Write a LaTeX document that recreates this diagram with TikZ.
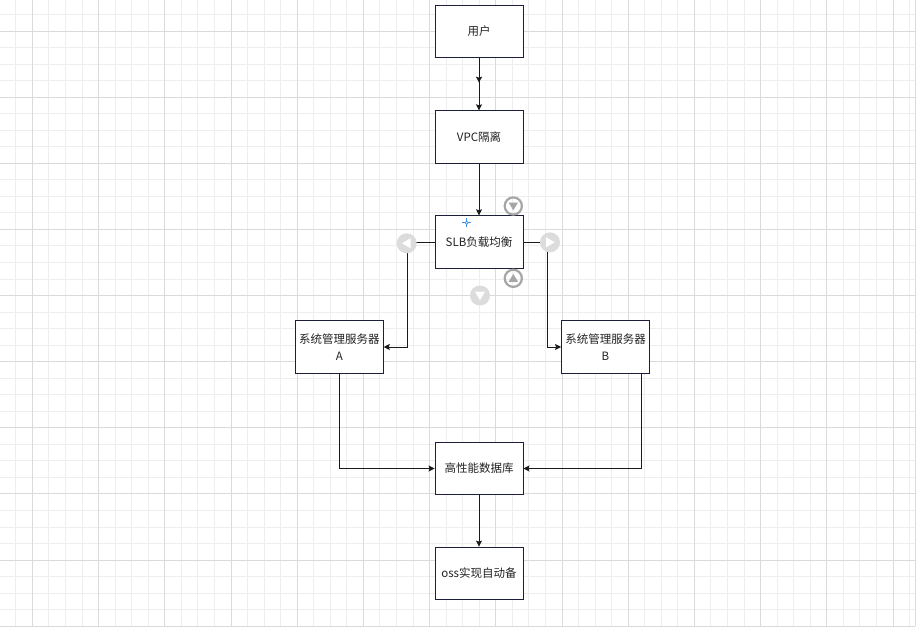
\documentclass[tikz,border=0pt]{standalone}
\usepackage{fontspec}
\newfontfamily\cjk{Noto Sans CJK SC}
\usepackage{tikz}
\usetikzlibrary{arrows.meta,calc,decorations.markings}
\usepackage{xcolor}
\definecolor{minorgrid}{HTML}{EEEEEE}
\definecolor{majorgrid}{HTML}{DADADA}
\definecolor{boxline}{HTML}{1C1F3A}
\definecolor{lnk}{HTML}{1A1A1A}
\definecolor{txt}{HTML}{222222}
\definecolor{iconlight}{HTML}{DCDCDC}
\definecolor{icondark}{HTML}{A6A6A6}
\definecolor{cross}{HTML}{3C8CE0}
\tikzset{
  box/.style={draw=boxline, line width=0.9pt, fill=white, minimum width=88pt, minimum height=52.5pt,
    inner sep=0pt, align=center, text=txt, font=\cjk\fontsize{11.5}{16.5}\selectfont},
  tip/.style={Stealth[length=6pt,width=6pt,inset=1pt]},
  link/.style={draw=lnk, line width=0.9pt, -{Stealth[length=6pt,width=6pt,inset=1pt]}},
  midtip/.style={postaction=decorate, decoration={markings, mark=at position 0.47 with {\arrow{Stealth[length=6pt,width=6pt,inset=1pt]}}}}
}

\begin{document}
\begin{tikzpicture}[x=1pt,y=-1pt]
\useasboundingbox [fill=white] (0,0) rectangle (918,627);
\foreach \i in {0,...,54} \draw [minorgrid, line width=0.8pt] ({15.75+16.55*\i},0) -- ({15.75+16.55*\i},626);
\foreach \j in {0,...,37} \draw [minorgrid, line width=0.8pt] (0,{14.47+16.53*\j}) -- (915,{14.47+16.53*\j});
\foreach \i in {0,...,13} \draw [majorgrid, line width=0.8pt] ({32.3+66.2*\i},0) -- ({32.3+66.2*\i},626);
\foreach \j in {0,...,9} \draw [majorgrid, line width=0.8pt] (0,{31+66.12*\j}) -- (915,{31+66.12*\j});
\draw [majorgrid, line width=0.8pt] (915,0) -- (915,626);

\node [box] (yh) at (479,31.5) {用户};
\node [box] (vpc) at (479,137) {VPC隔离};
\node [box] (slb) at (479,242) {SLB负载均衡};
\node [box] (sa) at (339.3,347) {系统管理服务器\\A};
\node [box] (sb) at (605.5,347) {系统管理服务器\\B};
\node [box] (db) at (479,468.5) {高性能数据库};
\node [box] (oss) at (479,573.3) {oss实现自动备};

\draw [link, midtip] (yh) -- (vpc);
\draw [link] (vpc) -- (slb);
\draw [link] (slb.west) -- ++(-27.3,0) |- (sa.east);
\draw [link] (slb.east) -- ++(23.7,0) |- (sb.west);
\draw [link] (sa.south) |- (db.west);
\draw [link] ([xshift=36.2pt]sb.south) |- (db.east);
\draw [link] (db) -- (oss);

\fill [iconlight] (406.7,243.3) circle [radius=10pt];
\fill [white] (402,243.3) -- (410.5,238.3) -- (410.5,248.3) -- cycle;
\fill [iconlight] (550,242.3) circle [radius=10pt];
\fill [white] (554.7,242.3) -- (546.2,237.3) -- (546.2,247.3) -- cycle;
\fill [iconlight] (480,295.5) circle [radius=10pt];
\fill [white] (480,300.2) -- (475,291.7) -- (485,291.7) -- cycle;
\draw [icondark, line width=2.2pt] (513.3,206) circle [radius=8.6pt];
\fill [icondark] (513.3,210.3) -- (508.6,202.5) -- (518,202.5) -- cycle;
\draw [icondark, line width=2.2pt] (513.3,278.3) circle [radius=8.6pt];
\fill [icondark] (513.3,274) -- (508.6,281.8) -- (518,281.8) -- cycle;
\draw [cross, line width=0.8pt] (462.3,222.7) -- (471.1,222.7) (466.7,218.3) -- (466.7,227.1);
\filldraw [cross, fill=white, line width=0.7pt] (466.7,222.7) circle [radius=1.6pt];
\end{tikzpicture}
\end{document}
